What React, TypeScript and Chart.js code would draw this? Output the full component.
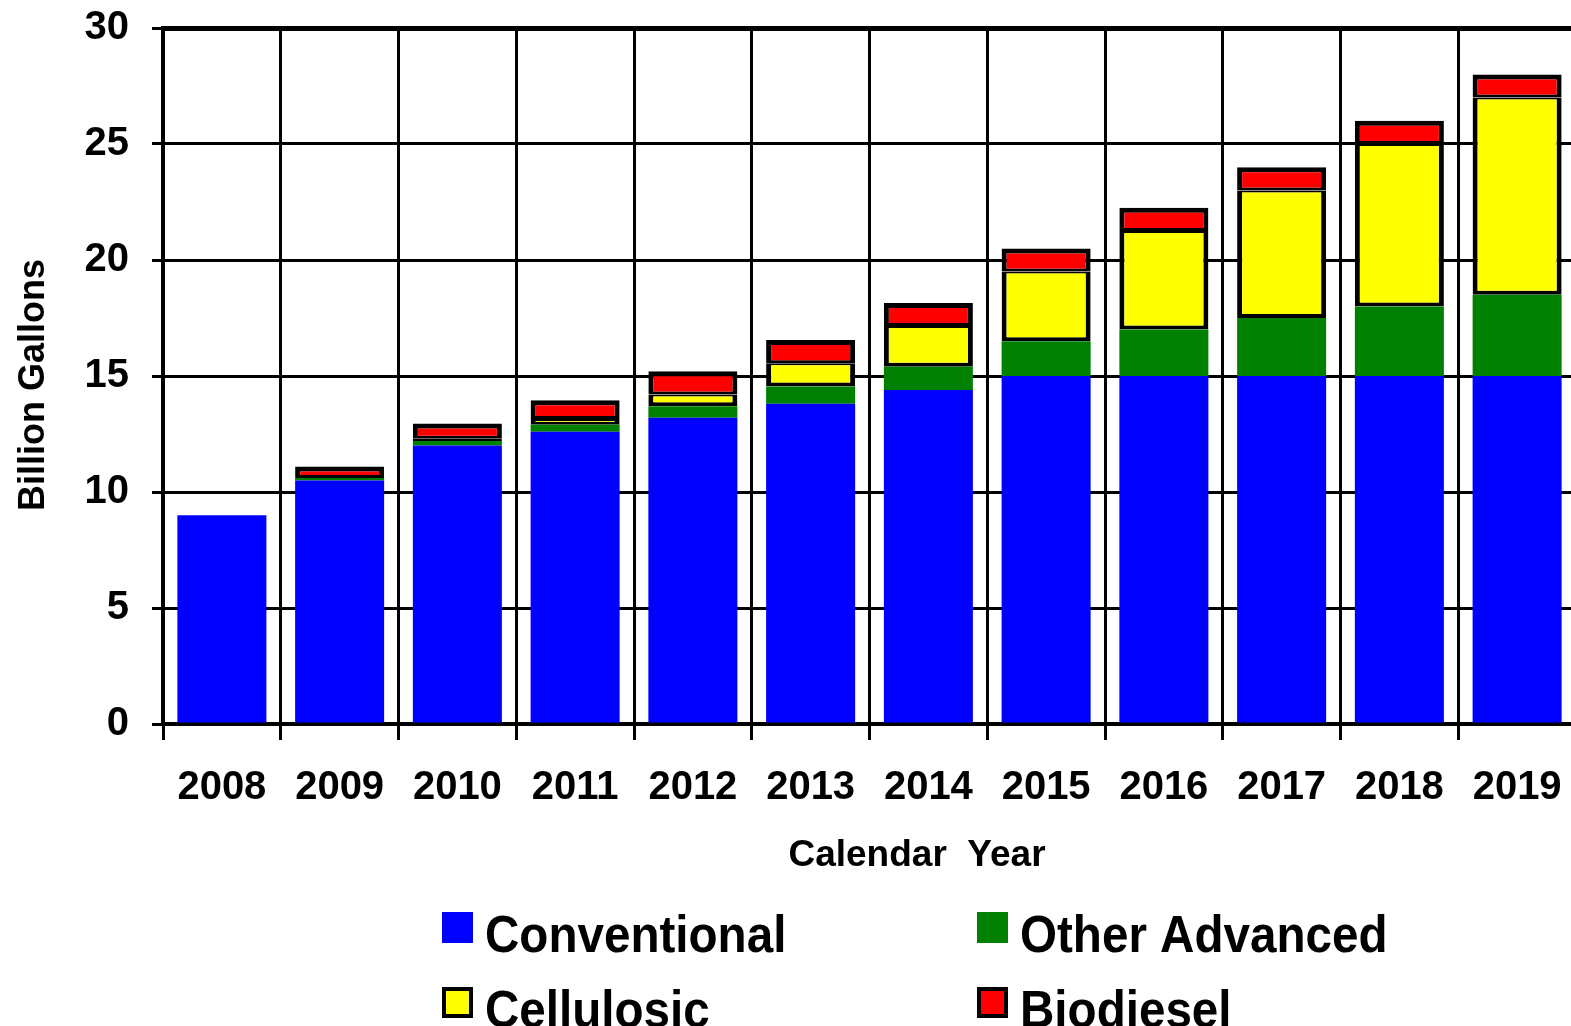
import React, { useEffect, useRef } from "react";
import { Chart, registerables } from "chart.js";

Chart.register(...registerables);

// Renewable fuel volumes by calendar year (billion gallons)
const years = ["2008", "2009", "2010", "2011", "2012", "2013", "2014", "2015", "2016", "2017", "2018", "2019"];
const conventional = [9.0, 10.5, 12.0, 12.6, 13.2, 13.8, 14.4, 15.0, 15.0, 15.0, 15.0, 15.0];
const otherAdvanced = [0, 0.1, 0.2, 0.3, 0.5, 0.75, 1.0, 1.5, 2.0, 2.5, 3.0, 3.5];
const cellulosic = [0, 0, 0.1, 0.25, 0.5, 1.0, 1.75, 3.0, 4.25, 5.5, 7.0, 8.5];
const biodiesel = [0, 0.5, 0.65, 0.8, 1.0, 1.0, 1.0, 1.0, 1.0, 1.0, 1.0, 1.0];

const yTicks = [0, 5, 10, 15, 20, 25, 30];
const xTitle = "Calendar  Year";
const yTitle = "Billion Gallons";

const FONT = "'Liberation Sans', Arial, sans-serif";

// Axis titles and the two-column legend are painted after the chart.
const decorations = {
  id: "decorations",
  afterDraw(chart: any) {
    const ctx = chart.ctx;
    const area = chart.chartArea;
    ctx.save();
    ctx.fillStyle = "#000";

    // y-axis title
    ctx.font = `bold 36px ${FONT}`;
    ctx.textAlign = "center";
    ctx.textBaseline = "middle";
    ctx.save();
    ctx.translate(34, (area.top + area.bottom) / 2 + 9);
    ctx.rotate(-Math.PI / 2);
    ctx.fillText(yTitle, 0, 0);
    ctx.restore();

    // x-axis title
    ctx.font = `bold 37px ${FONT}`;
    ctx.textBaseline = "alphabetic";
    ctx.fillText(xTitle, 917, 866);

    // legend: condensed bold labels beside square swatches
    const cols = [442, 977];
    const rows = [912, 987];
    ctx.font = `bold 52px ${FONT}`;
    ctx.textAlign = "left";
    chart.data.datasets.forEach((ds: any, i: number) => {
      const x = cols[i % 2];
      const y = rows[Math.floor(i / 2)];
      const s = 31;
      ctx.fillStyle = ds.backgroundColor;
      ctx.fillRect(x, y, s, s);
      if (ds.legendBorder) {
        ctx.strokeStyle = "#000";
        ctx.lineWidth = 4;
        ctx.strokeRect(x + 2, y + 2, s - 4, s - 4);
      }
      ctx.fillStyle = "#000";
      ctx.save();
      ctx.translate(x + 43, y + 40);
      ctx.scale(0.915, 1);
      ctx.fillText(ds.label, 0, 0);
      ctx.restore();
    });
    ctx.restore();
  },
};

export default function App() {
  const ref = useRef<HTMLCanvasElement>(null);

  useEffect(() => {
    const canvas = ref.current;
    if (!canvas) return;
    const chart = new Chart(canvas, {
      type: "bar",
      data: {
        labels: years,
        datasets: [
          {
            label: "Conventional",
            data: conventional,
            backgroundColor: "#0000FF",
            borderWidth: 0,
          },
          {
            label: "Other Advanced",
            data: otherAdvanced,
            backgroundColor: "#008000",
            borderWidth: 0,
          },
          {
            label: "Cellulosic",
            data: cellulosic,
            backgroundColor: "#FFFF00",
            borderColor: "#000",
            borderWidth: { top: 2, left: 5, right: 5, bottom: 4 },
            borderSkipped: false,
            legendBorder: true,
          } as any,
          {
            label: "Biodiesel",
            data: biodiesel,
            backgroundColor: "#FF0000",
            borderColor: "#000",
            borderWidth: { top: 5, left: 5, right: 5, bottom: 3 },
            borderSkipped: false,
            legendBorder: true,
          } as any,
        ],
      },
      options: {
        animation: false,
        responsive: false,
        devicePixelRatio: 1,
        barPercentage: 0.756,
        categoryPercentage: 1,
        layout: { padding: { top: 28, left: 0, right: 4, bottom: 0 } },
        plugins: {
          legend: { display: false },
          tooltip: { enabled: false },
        },
        scales: {
          x: {
            stacked: true,
            offset: true,
            grid: {
              offset: true,
              color: "#000",
              lineWidth: 3,
              drawTicks: true,
              tickLength: 16,
              tickColor: "#000",
              tickWidth: 3,
            },
            border: { color: "#000", width: 4 },
            ticks: {
              color: "#000",
              font: { family: FONT, size: 40, weight: "bold" },
              padding: 24,
              maxRotation: 0,
              autoSkip: false,
            },
            afterFit(scale: any) {
              scale.height = 302;
              scale.paddingLeft = 0;
              scale.paddingRight = 0;
            },
          },
          y: {
            stacked: true,
            min: 0,
            max: 30,
            afterBuildTicks(scale: any) {
              scale.ticks = yTicks.map((v) => ({ value: v }));
            },
            grid: {
              color: "#000",
              lineWidth: (c: any) => (c.tick && c.tick.value === 30 ? 5 : 3),
              drawTicks: true,
              tickLength: 11,
              tickColor: "#000",
              tickWidth: 3,
            },
            border: { color: "#000", width: 4 },
            ticks: {
              color: "#000",
              font: { family: FONT, size: 40, weight: "bold" },
              padding: 23,
            },
            afterFit(scale: any) {
              scale.width = 163;
              scale.paddingTop = 0;
              scale.paddingBottom = 0;
            },
          },
        },
      },
      plugins: [decorations],
    });
    return () => chart.destroy();
  }, []);

  return (
    <div
      style={{
        position: "fixed",
        left: 0,
        top: 0,
        width: 1571,
        height: 1026,
        overflow: "hidden",
        background: "#fff",
      }}
    >
      <canvas ref={ref} width={1580} height={1026} style={{ display: "block" }} />
    </div>
  );
}
